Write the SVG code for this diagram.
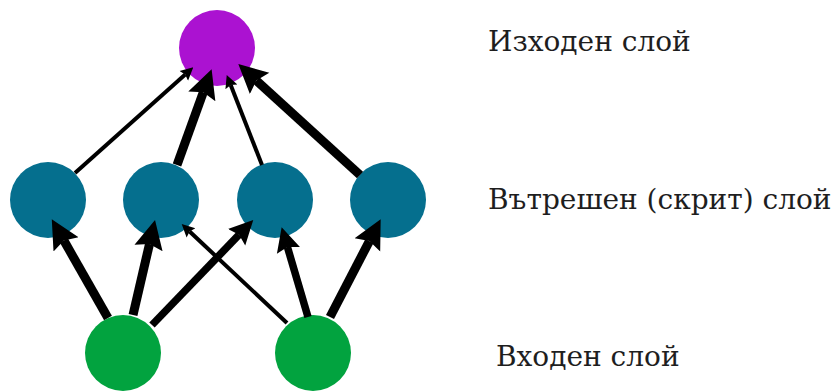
<svg xmlns="http://www.w3.org/2000/svg" width="837" height="392" viewBox="0 0 837 392">
<style>
.out{fill:#AB12D1}
.hid{fill:#056F8E}
.inp{fill:#02A33F}
.lbl{font-family:"DejaVu Serif","Liberation Serif",serif;font-size:28px;fill:#1e1e1e}
.c{stroke:#000;stroke-linecap:butt;fill:none}
.thin{stroke-width:4;marker-end:url(#ah)}
.mid{stroke-width:7.5;marker-end:url(#ah)}
.thick{stroke-width:9;marker-end:url(#ah)}
</style>
<defs>
<marker id="ah" viewBox="0 0 10 10" refX="1.5" refY="5" markerWidth="3.2" markerHeight="3.6" orient="auto" markerUnits="strokeWidth">
<path d="M0,0 L10,5 L0,10 L1.5,5 z" fill="#000"/>
</marker>
</defs>
<rect width="837" height="392" fill="#fff"/>
<g id="n-out"><circle class="out" cx="217" cy="48" r="38"/></g>
<g id="n-h1"><circle class="hid" cx="48" cy="200" r="38"/></g>
<g id="n-h2"><circle class="hid" cx="161" cy="200" r="38"/></g>
<g id="n-h3"><circle class="hid" cx="275" cy="200" r="38"/></g>
<g id="n-h4"><circle class="hid" cx="388" cy="200" r="38"/></g>
<g id="n-i1"><circle class="inp" cx="123" cy="353" r="38"/></g>
<g id="n-i2"><circle class="inp" cx="313" cy="353" r="38"/></g>
<g id="connectors">
<line class="c thin" x1="75" y1="173" x2="185.2" y2="74.6"/>
<line class="c thick" x1="177" y1="165" x2="203.3" y2="92.3"/>
<line class="c thin" x1="262" y1="165" x2="230.7" y2="85.1"/>
<line class="c thick" x1="360" y1="175" x2="256.4" y2="80.5"/>
<line class="c thick" x1="108" y1="318" x2="63.9" y2="240.6"/>
<line class="c thick" x1="133" y1="315" x2="149.5" y2="243.9"/>
<line class="c mid" x1="152" y1="325" x2="239.1" y2="234.7"/>
<line class="c thin" x1="287" y1="323" x2="189.6" y2="231.5"/>
<line class="c mid" x1="308" y1="317" x2="287.4" y2="246.9"/>
<line class="c thick" x1="330" y1="317" x2="369.4" y2="241.1"/>
</g>
<g id="labels">
<text class="lbl" x="488" y="51">Изходен слой</text>
<text class="lbl" x="488" y="209">Вътрешен (скрит) слой</text>
<text class="lbl" x="496" y="366">Входен слой</text>
</g>
</svg>
